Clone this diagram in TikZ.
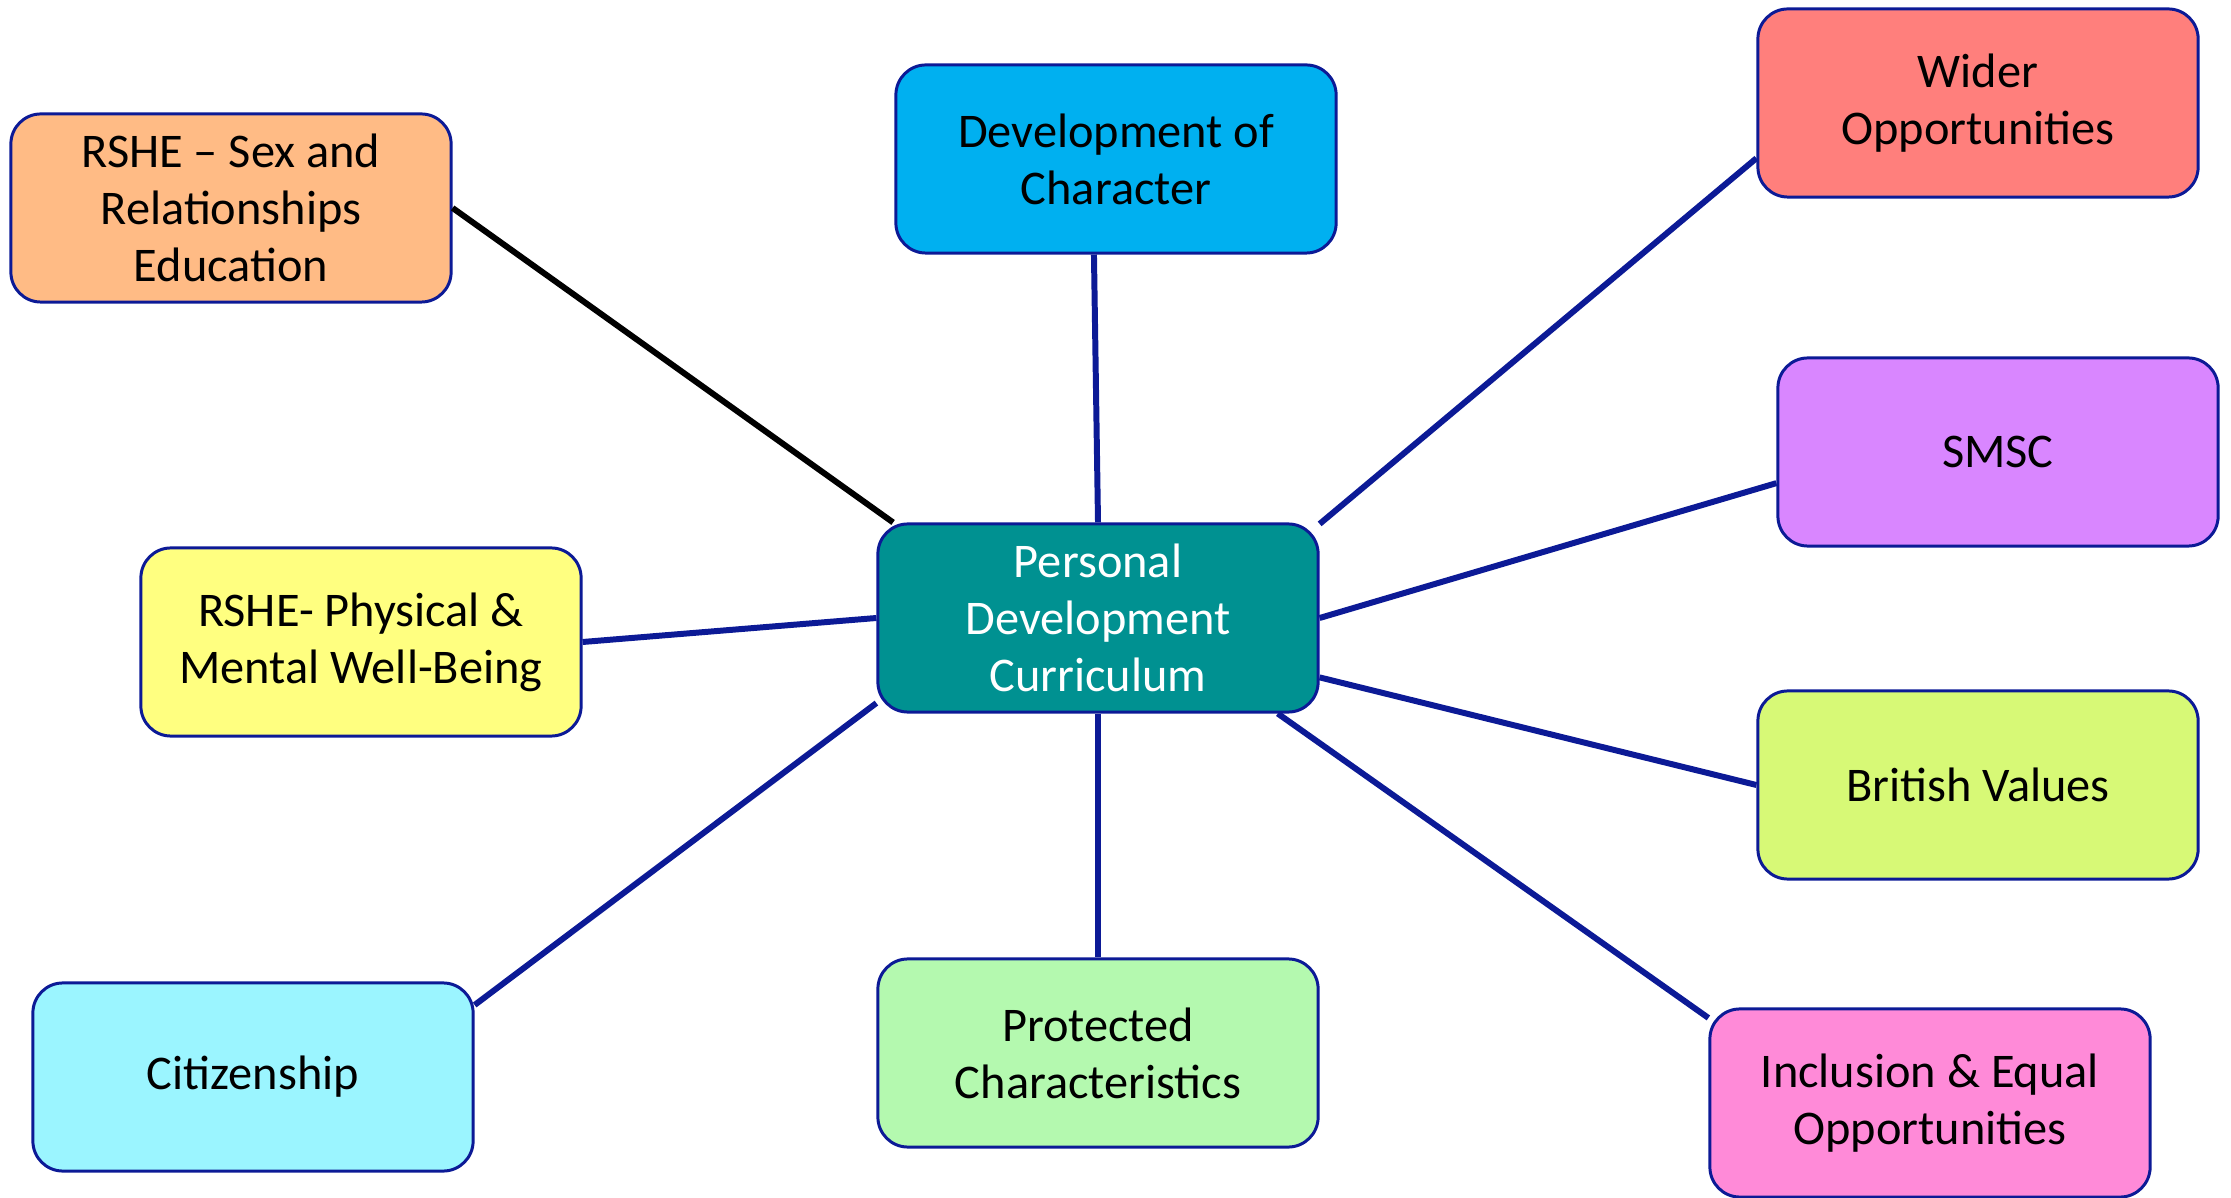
\documentclass[tikz,border=0pt]{standalone}
\usepackage{fontspec}
\setmainfont{Carlito}
\usepackage{tikz}

\definecolor{edgeblue}{HTML}{0C1A96}
\definecolor{sreorange}{HTML}{FFBB85}
\definecolor{devblue}{HTML}{00B0F0}
\definecolor{widerred}{HTML}{FF7F7C}
\definecolor{smscpurple}{HTML}{D986FF}
\definecolor{pdcteal}{HTML}{009191}
\definecolor{physyellow}{HTML}{FFFF80}
\definecolor{britgreen}{HTML}{D7F976}
\definecolor{citcyan}{HTML}{9BF5FF}
\definecolor{protgreen}{HTML}{B4F9AF}
\definecolor{inclpink}{HTML}{FF8AD8}

\tikzset{
  topic/.style={draw=edgeblue, line width=0.85pt, rounded corners=0.3cm,
    minimum width=4.4cm, minimum height=1.88cm, align=center,
    font=\fontsize{13.75}{16.2}\selectfont},
  link/.style={edgeblue, line width=1.7pt}
}

\begin{document}
\begin{tikzpicture}[x=0.01cm, y=-0.01cm]
\useasboundingbox (0,0) rectangle (2231,1198);

% centre
\node[topic, fill=pdcteal, text=white] (pdc) at (1098,618) {Personal\\Development\\Curriculum};

% topics round it
\node[topic, fill=sreorange] (sre) at (231,208) {RSHE -- Sex and\\Relationships\\Education};
\node[topic, fill=devblue] (dev) at (1116,159) {Development of\\Character};
\node[topic, fill=widerred] (wider) at (1978,103) {Wider\\Opportunities};
\node[topic, fill=smscpurple] (smsc) at (1998,452) {SMSC};
\node[topic, fill=physyellow] (phys) at (361,642) {RSHE- Physical \&\\Mental Well-Being};
\node[topic, fill=britgreen] (brit) at (1978,785) {British Values};
\node[topic, fill=citcyan] (cit) at (253,1077) {Citizenship};
\node[topic, fill=protgreen] (prot) at (1098,1053) {Protected\\Characteristics};
\node[topic, fill=inclpink] (incl) at (1930,1103) {Inclusion \& Equal\\Opportunities};

% links
\draw [line width=1.7pt, black] (sre.east) -- (pdc.155);
\draw [link] (dev.257) -- (pdc.north);
\draw [link] (wider.194) -- (pdc.23);
\draw [link] (smsc.188) -- (pdc.east);
\draw [link] (phys.east) -- (pdc.west);
\draw [link] (brit.west) -- (pdc.345);
\draw [link] (cit.18) -- (pdc.201);
\draw [link] (pdc.south) -- (prot.north);
\draw [link] (incl.159) -- (pdc.332);
\end{tikzpicture}
\end{document}
